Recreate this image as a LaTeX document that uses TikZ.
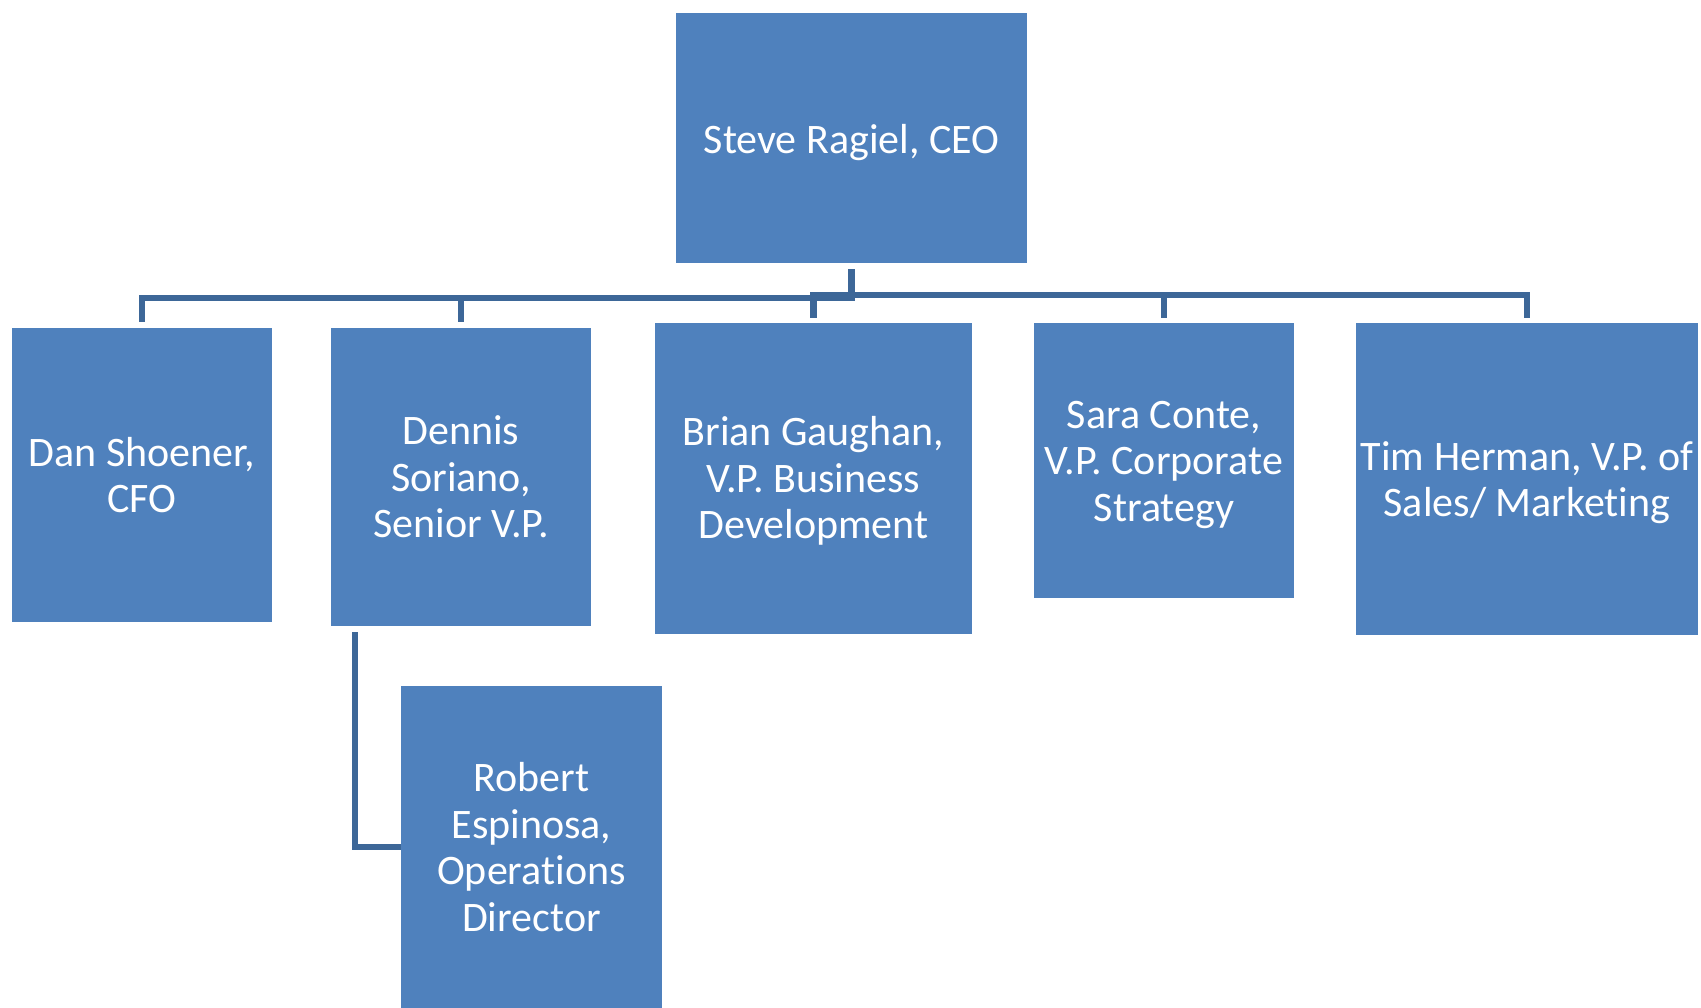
\documentclass[tikz,border=0pt]{standalone}
\usepackage{fontspec}
\setmainfont{Carlito}[Ligatures={NoCommon}]
\definecolor{boxblue}{HTML}{4F81BD}
\definecolor{linkblue}{HTML}{3D6798}
\tikzset{
  orgbox/.style={rectangle, fill=boxblue, draw=none, inner sep=0pt, text=white,
    align=center, font=\fontsize{42}{46.5}\selectfont},
  conn/.style={draw=linkblue, line width=6.5pt}
}
\begin{document}
\begin{tikzpicture}[x=1pt,y=-1pt]
\useasboundingbox[fill=white] (0,0) rectangle (1701,1008);
\node[orgbox, minimum width=351pt, minimum height=250pt] (ceo) at (851.5,138) {\rule{0pt}{38.5pt}Steve Ragiel, CEO};
\node[orgbox, minimum width=260pt, minimum height=294pt] (dan) at (142,475) {Dan Shoener,\\CFO};
\node[orgbox, minimum width=260pt, minimum height=298pt] (dennis) at (461,477) {Dennis\\Soriano,\\Senior V.P.};
\node[orgbox, minimum width=317pt, minimum height=311pt] (brian) at (813.5,478.5) {\rule{0pt}{34pt}Brian Gaughan,\\V.P. Business\\Development};
\node[orgbox, minimum width=260pt, minimum height=275pt] (sara) at (1164,460.5) {\rule{0pt}{36pt}Sara Conte,\\V.P. Corporate\\Strategy};
\node[orgbox, minimum width=342pt, minimum height=312pt] (tim) at (1527,479) {\rule{0pt}{36.5pt}Tim Herman, V.P. of\\Sales/ Marketing};
\node[orgbox, minimum width=261pt, minimum height=322pt] (robert) at (531.5,847) {Robert\\Espinosa,\\Operations\\Director};
\coordinate (jl) at (855,298);
\coordinate (jr) at (1527,295);
\draw[conn] ([yshift=-6pt]ceo.south) -- (ceo.south |- jl);
\draw[conn] ([yshift=6pt]dan.north) |- (jl);
\draw[conn] ([yshift=6pt]dennis.north) -- (dennis.north |- jl);
\draw[conn] ([yshift=5pt]brian.north) |- (jr) -- ([yshift=5pt]tim.north);
\draw[conn] ([yshift=5pt]sara.north) -- (sara.north |- jr);
\draw[conn] ([xshift=24pt,yshift=-6pt]dennis.south west) |- (robert.west);
\end{tikzpicture}
\end{document}
